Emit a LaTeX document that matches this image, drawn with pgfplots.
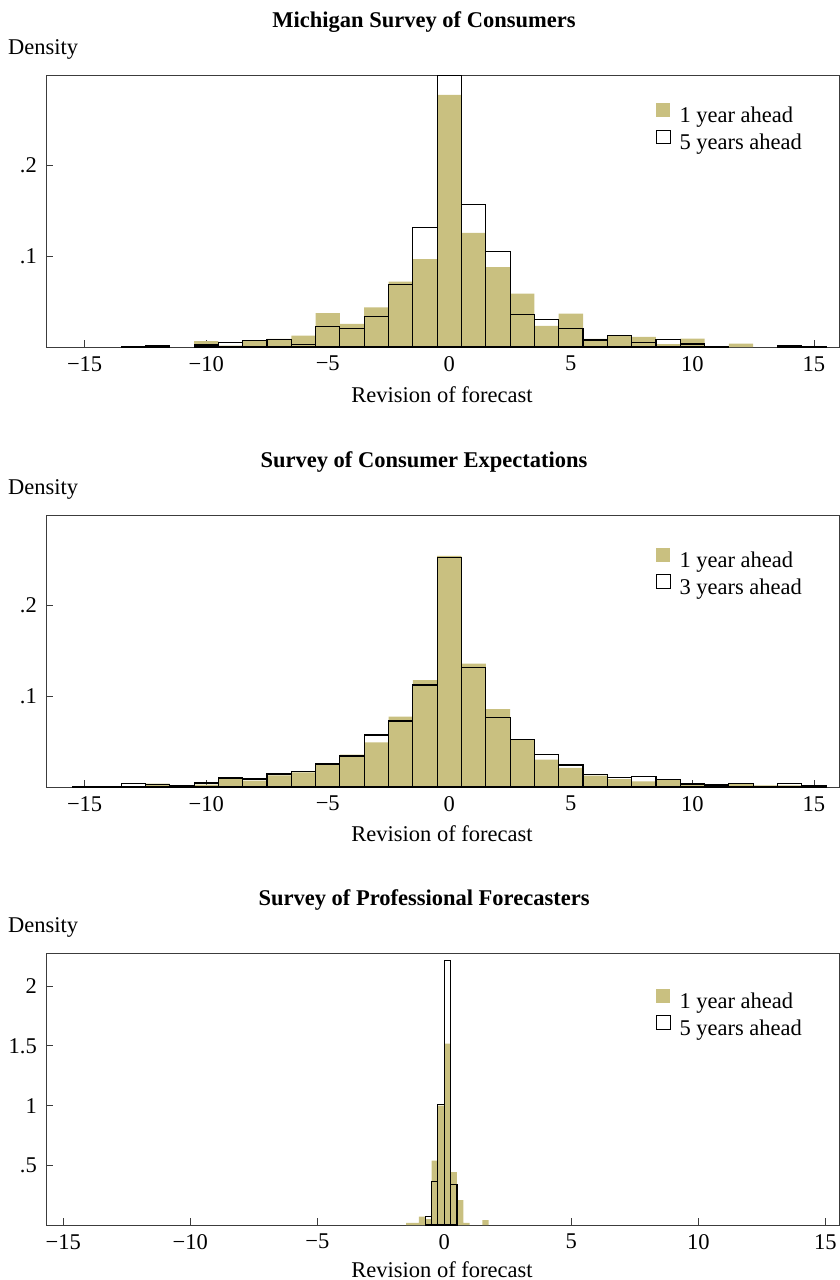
\documentclass[border=0pt]{standalone}
\usepackage{pgfplots}
\pgfplotsset{compat=1.18}
\usepackage{fontspec}
\setmainfont{Liberation Serif}
\definecolor{statabar}{RGB}{201,192,128}
\definecolor{axgray}{RGB}{60,60,60}
\pgfplotsset{
  hist/.style={
    scale only axis, width=793pt, height=272pt, anchor=south west,
    axis line style={axgray, line width=1pt},
    tick align=inside, major tick length=7pt,
    tick style={axgray, line width=0.9pt},
    xtick pos=left, ytick pos=left,
    xtick={-15,-10,-5,0,5,10,15},
    xticklabels={−15,−10,−5,0,5,10,15},
    xticklabel style={anchor=north, inner sep=0pt, yshift=-9pt},
    yticklabel style={anchor=east, inner sep=0pt, xshift=-9pt},
    ymin=0,
    legend cell align=left,
    legend style={draw=none, fill=none, anchor=north west, inner sep=0pt,
      row sep=1pt, column sep=8pt,
      nodes={inner sep=1pt, text height=16pt, text depth=5pt}},
  },
  olivebar/.style={ybar, bar shift=0pt, fill=statabar, draw=none,
    legend image code/.code={\fill[statabar] (0pt,0pt) rectangle (14pt,14pt);}},
  outbar/.style={ybar, bar shift=0pt, draw=black, fill=none, line width=1.1pt,
    legend image code/.code={\draw[black, line width=1pt, fill=white] (0.5pt,0.5pt) rectangle (14pt,14pt);}},
}
\begin{document}
\begin{tikzpicture}[font=\fontsize{22.5pt}{27pt}\selectfont]
\useasboundingbox (0,0) rectangle (840pt,-1280pt);

% ---------------- Panel 1 ----------------
\node[font=\fontsize{22.5pt}{27pt}\selectfont\bfseries, anchor=base] at (424pt,-27pt) {Michigan Survey of Consumers};
\node[anchor=base west, inner sep=0pt] at (8pt,-54pt) {Density};
\node[anchor=base, inner sep=0pt] at (442pt,-402pt) {Revision of forecast};
\begin{axis}[hist, at={(46pt,-347pt)},
  xmin=-16.59, xmax=16.03, ymax=0.3, bar width=1,
  ytick={0.1,0.2}, yticklabels={.1,.2},
  legend style={at={(0.769,0.897)}}]
\addplot[olivebar] coordinates {
(-13,0.0005) (-12,0.001) (-10,0.0066) (-9,0.0015) (-8,0.0077) (-7,0.0090)
(-6,0.0126) (-5,0.0373) (-4,0.0255) (-3,0.0436) (-2,0.0720) (-1,0.0970)
(0,0.2780) (1,0.1258) (2,0.0882) (3,0.0590) (4,0.0232) (5,0.0369)
(6,0.0089) (7,0.0121) (8,0.0111) (9,0.0033) (10,0.0092) (12,0.0037) (14,0.0008)};
\addlegendentry{1 year ahead}
\addplot[outbar] coordinates {
(-13,0.0008) (-12,0.0012) (-10,0.0022) (-9,0.0048) (-8,0.0070) (-7,0.0078)
(-6,0.0026) (-5,0.0225) (-4,0.0207) (-3,0.0340) (-2,0.0690) (-1,0.1318)
(0,0.2996) (1,0.1576) (2,0.1055) (3,0.0362) (4,0.0303) (5,0.0207)
(6,0.0077) (7,0.0129) (8,0.0052) (9,0.0081) (10,0.0033) (11,0.0004) (14,0.0015) (15,0.0010)};
\addlegendentry{5 years ahead}
\end{axis}

% ---------------- Panel 2 ----------------
\node[font=\fontsize{22.5pt}{27pt}\selectfont\bfseries, anchor=base] at (424pt,-467pt) {Survey of Consumer Expectations};
\node[anchor=base west, inner sep=0pt] at (8pt,-494pt) {Density};
\node[anchor=base, inner sep=0pt] at (442pt,-841pt) {Revision of forecast};
\begin{axis}[hist, at={(46pt,-787pt)},
  xmin=-16.59, xmax=16.03, ymax=0.3, bar width=1,
  ytick={0.1,0.2}, yticklabels={.1,.2},
  legend style={at={(0.769,0.881)}}]
\addplot[olivebar] coordinates {
(-15,0.0010) (-14,0.0005) (-13,0.0010) (-12,0.0037) (-11,0.0010) (-10,0.0026)
(-9,0.0110) (-8,0.0070) (-7,0.0129) (-6,0.0162) (-5,0.0254) (-4,0.0357)
(-3,0.0493) (-2,0.0776) (-1,0.1180) (0,0.2550) (1,0.1360) (2,0.0860)
(3,0.0518) (4,0.0301) (5,0.0210) (6,0.0125) (7,0.0088) (8,0.0063)
(9,0.0081) (10,0.0040) (11,0.0010) (12,0.0044) (13,0.0018) (14,0.0018) (15,0.0010)};
\addlegendentry{1 year ahead}
\addplot[outbar] coordinates {
(-15,0.0010) (-14,0.0010) (-13,0.0040) (-12,0.0026) (-11,0.0018) (-10,0.0044)
(-9,0.0099) (-8,0.0088) (-7,0.0143) (-6,0.0173) (-5,0.0254) (-4,0.0342)
(-3,0.0574) (-2,0.0728) (-1,0.1125) (0,0.2530) (1,0.1320) (2,0.0770)
(3,0.0526) (4,0.0360) (5,0.0243) (6,0.0136) (7,0.0107) (8,0.0118)
(9,0.0081) (10,0.0033) (11,0.0022) (12,0.0037) (13,0.0010) (14,0.0040) (15,0.0018)};
\addlegendentry{3 years ahead}
\end{axis}

% ---------------- Panel 3 ----------------
\node[font=\fontsize{22.5pt}{27pt}\selectfont\bfseries, anchor=base] at (424pt,-905pt) {Survey of Professional Forecasters};
\node[anchor=base west, inner sep=0pt] at (8pt,-932pt) {Density};
\node[anchor=base, inner sep=0pt] at (442pt,-1277pt) {Revision of forecast};
\begin{axis}[hist, at={(46pt,-1225pt)},
  xmin=-15.68, xmax=15.54, ymax=2.278, bar width=0.25,
  ytick={0.5,1,1.5,2}, yticklabels={.5,1,1.5,2},
  legend style={at={(0.769,0.87)}}]
\addplot[olivebar] coordinates {
(-1.375,0.017) (-1.125,0.017) (-0.875,0.070) (-0.625,0.050) (-0.375,0.539)
(-0.125,1.000) (0.125,1.520) (0.375,0.444) (0.625,0.209) (0.875,0.017) (1.625,0.042)};
\addlegendentry{1 year ahead}
\addplot[outbar] coordinates {
(-0.625,0.075) (-0.375,0.368) (-0.125,1.013) (0.125,2.214) (0.375,0.340)};
\addlegendentry{5 years ahead}
\end{axis}
\end{tikzpicture}
\end{document}
